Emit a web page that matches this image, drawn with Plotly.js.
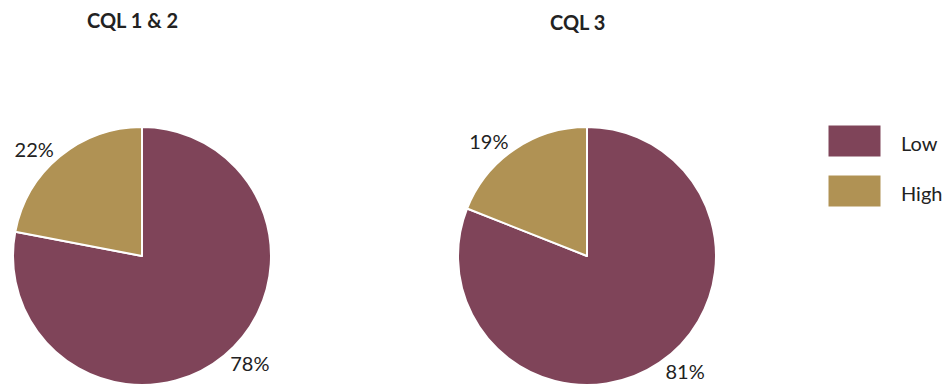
<!DOCTYPE html>
<html><head><meta charset="utf-8">
<script src="https://cdn.plot.ly/plotly-3.0.1.min.js"></script>
<style>html,body{margin:0;padding:0;background:#fff}#c{width:952px;height:389px}</style>
</head><body><div id="c"></div>
<script>
const categories = ["Low", "High"];
const colors = ["#7F4459", "#B09254"];
const cql12 = [78, 22];
const cql3 = [81, 19];
const titles = ["CQL 1 & 2", "CQL 3"];

const W = 952, H = 389;
function dom(cx, cy, r, padx, pady) {
  return {x: [(cx - r - padx) / W, (cx + r + padx) / W], y: [(H - cy - r - pady) / H, (H - cy + r + pady) / H]};
}
const font = {family: "Lato, 'Open Sans', sans-serif", size: 20, color: "#222"};
function pie(vals, d) {
  return {
    type: "pie", labels: categories, values: vals, sort: false, direction: "clockwise", rotation: 0,
    marker: {colors: colors, line: {color: "#fff", width: 2}},
    textinfo: "percent", texttemplate: "%{percent:.0%}", textposition: "outside",
    textfont: font, outsidetextfont: font, hoverinfo: "none", domain: d, showlegend: false, automargin: false
  };
}
const data = [pie(cql12, dom(142, 256, 129, 13, 0)), pie(cql3, dom(587, 256, 129, 40, 0))];

const shapes = [], annotations = [];
categories.forEach((c, i) => {
  const y0 = 125 + i * 50;
  shapes.push({type: "rect", xref: "paper", yref: "paper", x0: 828 / W, x1: 881 / W, y0: 1 - (y0 + 32) / H, y1: 1 - y0 / H,
    fillcolor: colors[i], line: {color: "#fff", width: 1}});
  annotations.push({xref: "paper", yref: "paper", x: 899 / W, y: 1 - (y0 + 18) / H, xanchor: "left", yanchor: "middle",
    text: c, showarrow: false, font: font});
});
titles.forEach((t, i) => {
  annotations.push({xref: "paper", yref: "paper", x: [132, 577][i] / W, y: 1 - [20, 22][i] / H, xanchor: "center", yanchor: "middle",
    text: "<b>" + t + "</b>", showarrow: false, font: {family: "Lato, sans-serif", size: 20, color: "#222"}});
});

Plotly.newPlot("c", data, {
  width: W, height: H, margin: {l: 0, r: 0, t: 0, b: 0}, paper_bgcolor: "#fff", showlegend: false,
  shapes: shapes, annotations: annotations
}, {displayModeBar: false, staticPlot: true});
</script></body></html>
